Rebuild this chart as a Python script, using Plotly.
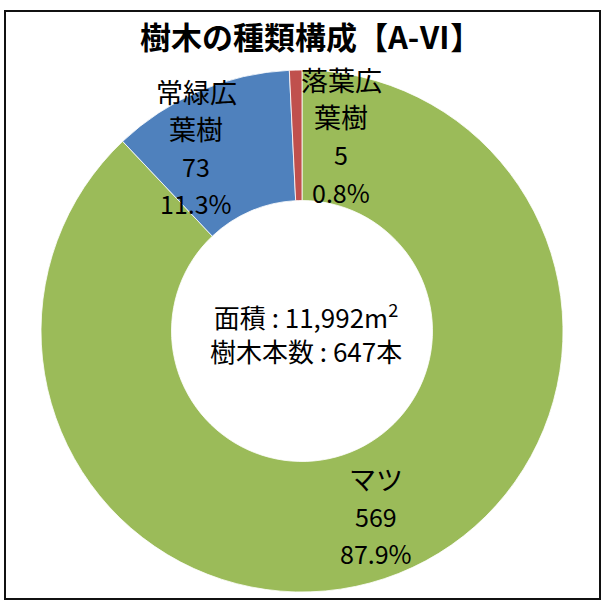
import plotly.graph_objects as go

WIDTH = 604
HEIGHT = 607

TITLE = "樹木の種類構成【A-Ⅵ】"
SPECIES = ["マツ", "常緑広葉樹", "落葉広葉樹"]
COUNTS = [569, 73, 5]
COLORS = ["#9BBB59", "#4F81BD", "#C0504D"]
AREA_M2 = "11,992"

FONT = "Noto Sans CJK JP, Noto Sans, sans-serif"

# label anchor in pixels (x centre, y of first line) and line step
LABEL_POS = {
    "マツ": (376, 478),
    "常緑広葉樹": (196, 91),
    "落葉広葉樹": (341, 79),
}
LINE_STEP = 37.5


def px_x(x):
    return x / WIDTH


def px_y(y):
    return 1 - y / HEIGHT


def label_lines(name, count, total):
    parts = [name] if len(name) <= 3 else [name[:3], name[3:]]
    pct = count / total * 100
    return parts + [str(count), f"{pct:.1f}%"]


def build_figure():
    total = sum(COUNTS)
    cx, cy, r = 302, 331, 261

    fig = go.Figure(
        go.Pie(
            labels=SPECIES,
            values=COUNTS,
            sort=False,
            direction="clockwise",
            rotation=0,
            hole=0.5,
            textinfo="none",
            hoverinfo="label+value+percent",
            marker=dict(colors=COLORS, line=dict(color="white", width=0.8)),
            domain=dict(
                x=[px_x(cx - r), px_x(cx + r)],
                y=[px_y(cy + r), px_y(cy - r)],
            ),
            showlegend=False,
        )
    )

    annotations = [
        dict(
            text=f"<b>{TITLE}</b>",
            x=px_x(310), y=px_y(35),
            font=dict(size=31, color="black", family=FONT),
        ),
        dict(
            text=f"面積 : {AREA_M2}m<sup>2</sup><br>樹木本数 : {total}本",
            x=px_x(306), y=px_y(333),
            font=dict(size=26, color="black", family=FONT),
        ),
    ]

    for name, count in zip(SPECIES, COUNTS):
        x0, y0 = LABEL_POS[name]
        for i, line in enumerate(label_lines(name, count, total)):
            size = 25 if line[0].isdigit() else 27
            annotations.append(
                dict(
                    text=line,
                    x=px_x(x0), y=px_y(y0 + i * LINE_STEP),
                    font=dict(size=size, color="black", family=FONT),
                )
            )

    for a in annotations:
        a.update(xref="paper", yref="paper", xanchor="center",
                 yanchor="middle", showarrow=False)

    fig.update_layout(
        width=WIDTH,
        height=HEIGHT,
        margin=dict(l=0, r=0, t=0, b=0),
        paper_bgcolor="white",
        plot_bgcolor="white",
        annotations=annotations,
        shapes=[
            dict(
                type="rect", xref="paper", yref="paper",
                x0=px_x(5), x1=px_x(600), y0=px_y(599), y1=px_y(11),
                line=dict(color="#111111", width=2),
            )
        ],
    )
    return fig


if __name__ == "__main__":
    fig = build_figure()
    # drop the browser's default body margin so the figure sits at 0,0
    fig.write_html(
        "out.html",
        config={"displayModeBar": False},
        post_script="document.body.style.margin = '0';",
    )
